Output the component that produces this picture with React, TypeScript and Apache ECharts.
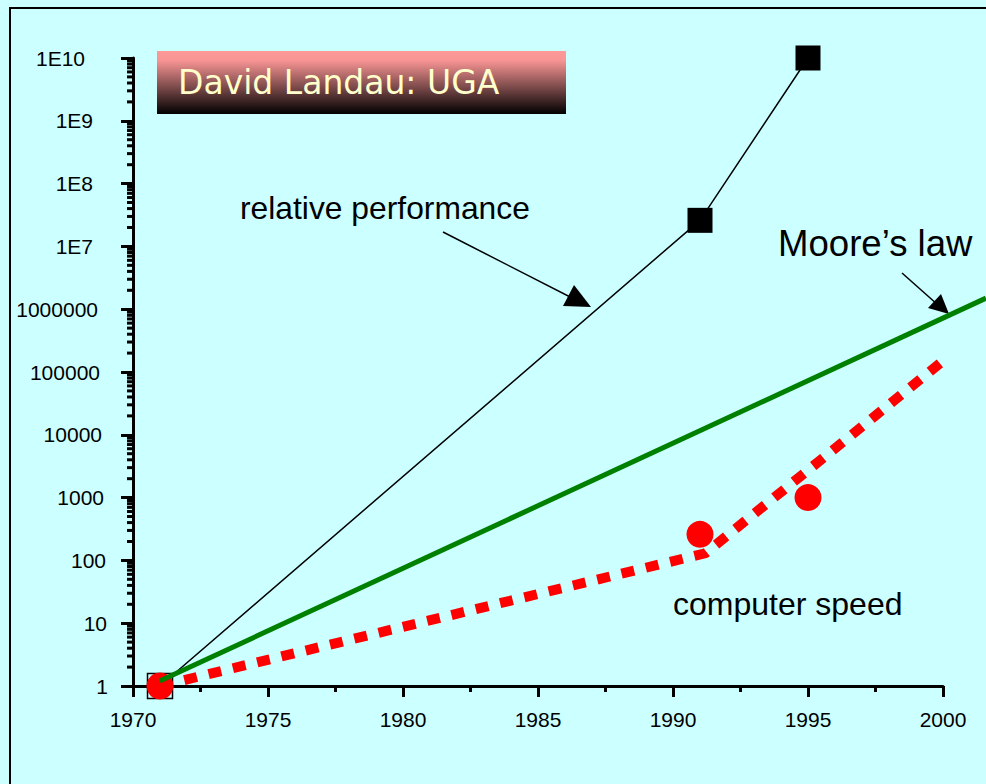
import React, { useEffect, useRef } from 'react';
import * as echarts from 'echarts';

// relative performance (black squares)
const perfYears = [1971, 1991, 1995];
const perfValues = [1, 2.6e7, 1e10];
// computer speed measured points (red circles)
const speedYears = [1971, 1991, 1995];
const speedValues = [1, 260, 1000];
// computer speed trend (red dotted line)
const speedTrendYears = [1971, 1991.2, 2000];
const speedTrendValues = [1, 130, 1.5e5];
// Moore's law (green line)
const mooreYears = [1971, 2002];
const mooreValues = [1.2, 1.5e6];
// y label right paddings by decade exponent 0..10
const yLabelPads = [0, 1, 2, 4, 6, 8, 10, 15, 15, 15, 23];
const minorMultipliers = [2, 3, 4, 5, 6, 7, 8, 9];
const decades = [0, 1, 2, 3, 4, 5, 6, 7, 8, 9];

const FONT = "Arial, 'Liberation Sans', sans-serif";

export default function App() {
  const ref = useRef<HTMLDivElement>(null);
  useEffect(() => {
    if (!ref.current) return;
    const chart = echarts.init(ref.current, null, { renderer: 'svg' });
    const zip = (xs: number[], ys: number[]) => xs.map((x, i) => [x, Math.log10(ys[i])]);
    const minorTicks: number[][] = [];
    decades.forEach((d) => minorMultipliers.forEach((m) => minorTicks.push([1970, Math.log10(m * Math.pow(10, d))])));
    const rich: any = {};
    yLabelPads.forEach((p) => {
      rich['p' + p] = { padding: [0, p, 0, 0], fontSize: 21, fontFamily: FONT, color: '#000' };
    });
    const perfData: any[] = zip(perfYears, perfValues).map((v, i) =>
      i === 0
        ? { value: v, itemStyle: { color: 'rgba(0,0,0,0)', borderColor: '#000', borderWidth: 1.5 } }
        : { value: v }
    );
    chart.setOption({
      animation: false,
      backgroundColor: '#CCFFFF',
      grid: [
        { left: 133, right: 43, top: 58, bottom: 98 },
        { left: 133, width: 864, top: 58, bottom: 98 },
      ],
      xAxis: [
        {
          type: 'value',
          min: 1970,
          max: 2000,
          interval: 5,
          axisLine: { onZero: false, lineStyle: { color: '#000', width: 3 } },
          axisTick: { length: 11, lineStyle: { color: '#000', width: 3 } },
          minorTick: { show: true, splitNumber: 2, length: 6, lineStyle: { color: '#000', width: 3 } },
          splitLine: { show: false },
          minorSplitLine: { show: false },
          axisLabel: { margin: 23, fontSize: 21, fontFamily: FONT, color: '#000', formatter: (v: number) => String(v) },
        },
        { type: 'value', gridIndex: 1, min: 1970, max: 2002, show: false },
      ],
      yAxis: [
        {
          type: 'value',
          min: 0,
          max: 10,
          interval: 1,
          axisLine: { show: true, onZero: false, lineStyle: { color: '#000', width: 3 } },
          axisTick: { show: true, length: 12, lineStyle: { color: '#000', width: 3 } },
          splitLine: { show: false },
          axisLabel: {
            margin: 25,
            fontSize: 21,
            fontFamily: FONT,
            color: '#000',
            rich,
            formatter: (v: number) => {
              const e = Math.round(v);
              const txt = e >= 7 ? '1E' + e : String(Math.round(Math.pow(10, e)));
              return '{p' + yLabelPads[e] + '|' + txt + '}';
            },
          },
        },
        { type: 'value', gridIndex: 1, min: 0, max: 10, show: false },
      ],
      series: [
        {
          type: 'scatter',
          data: minorTicks,
          symbol: 'rect',
          symbolSize: [6, 3],
          symbolOffset: [-3, 0],
          itemStyle: { color: '#000', opacity: 1 },
          silent: true,
          clip: false,
          z: 1,
        },
        {
          type: 'line',
          data: perfData,
          symbol: 'rect',
          symbolSize: 25,
          lineStyle: { color: '#000', width: 1.5 },
          itemStyle: { color: '#000' },
          clip: false,
          z: 2,
        },
        {
          type: 'scatter',
          data: zip(speedYears, speedValues),
          symbol: 'circle',
          symbolSize: 27,
          itemStyle: { color: '#FF0000', opacity: 1 },
          clip: false,
          z: 3,
        },
        {
          type: 'line',
          data: zip(speedTrendYears, speedTrendValues),
          showSymbol: false,
          symbol: 'none',
          lineStyle: { color: '#FF0000', width: 10, type: [13, 12], cap: 'butt' },
          clip: false,
          z: 3,
        },
        {
          type: 'line',
          xAxisIndex: 1,
          yAxisIndex: 1,
          data: zip(mooreYears, mooreValues),
          symbol: 'none',
          lineStyle: { color: '#008000', width: 5 },
          clip: false,
          z: 4,
        },
      ],
      graphic: [
        {
          type: 'rect',
          shape: { x: 10, y: 8, width: 1200, height: 1200 },
          style: { fill: 'none', stroke: '#000', lineWidth: 2 },
          silent: true,
        },
        {
          type: 'rect',
          shape: { x: 157, y: 51, width: 409, height: 63 },
          style: {
            fill: new echarts.graphic.LinearGradient(0, 0, 0, 1, [
              { offset: 0, color: '#FF9999' },
              { offset: 0.15, color: '#F89494' },
              { offset: 1, color: '#000000' },
            ]),
          },
        },
        {
          type: 'text',
          x: 178,
          y: 82,
          style: {
            text: 'David Landau: UGA',
            fontSize: 33,
            fontFamily: "'Comic Sans MS', 'DejaVu Sans', sans-serif",
            fill: '#FFFFCC',
            verticalAlign: 'middle',
          },
        },
        {
          type: 'text',
          x: 240,
          y: 208,
          style: { text: 'relative performance', fontSize: 31.8, fontFamily: FONT, fill: '#000', verticalAlign: 'middle' },
        },
        {
          type: 'line',
          shape: { x1: 443, y1: 232, x2: 578, y2: 301 },
          style: { stroke: '#000', lineWidth: 1.5 },
        },
        {
          type: 'polygon',
          shape: { points: [[591, 307], [563, 306], [574, 285]] },
          style: { fill: '#000' },
        },
        {
          type: 'text',
          x: 778,
          y: 243,
          style: { text: 'Moore\u2019s law', fontSize: 36.6, fontFamily: FONT, fill: '#000', verticalAlign: 'middle' },
        },
        {
          type: 'line',
          shape: { x1: 902, y1: 273, x2: 938, y2: 305 },
          style: { stroke: '#000', lineWidth: 1.5 },
        },
        {
          type: 'polygon',
          shape: { points: [[949, 314], [928, 308], [941, 294]] },
          style: { fill: '#000' },
        },
        {
          type: 'text',
          x: 673,
          y: 604,
          style: { text: 'computer speed', fontSize: 32, fontFamily: FONT, fill: '#000', verticalAlign: 'middle' },
        },
      ],
    });
    return () => chart.dispose();
  }, []);
  return (
    <div
      ref={ref}
      style={{ position: 'absolute', left: 0, top: 0, width: 986, height: 784, background: '#CCFFFF' }}
    />
  );
}
